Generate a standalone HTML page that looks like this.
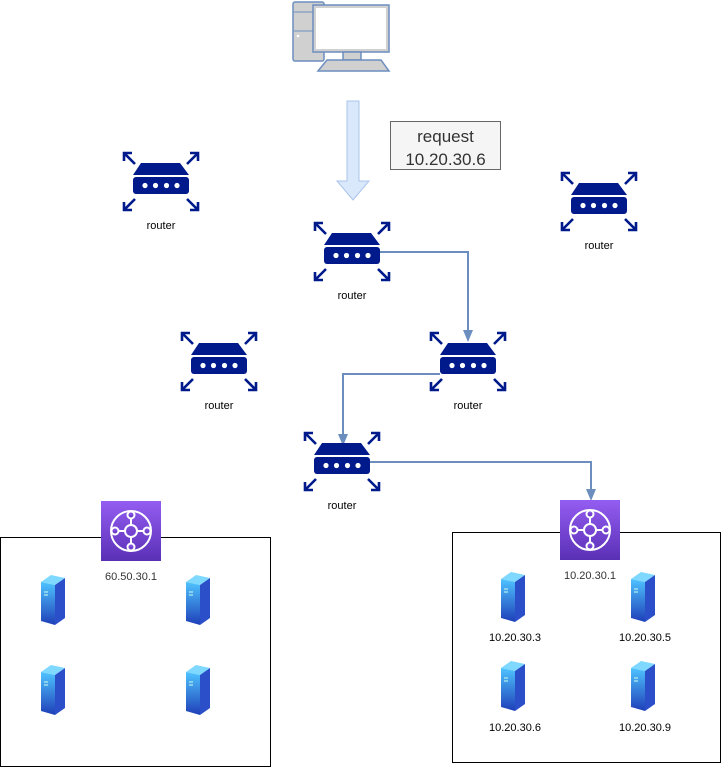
<!DOCTYPE html>
<html><head><meta charset="utf-8"><style>
body{margin:0;background:#fff;}
svg text{font-family:"Liberation Sans",sans-serif;}
</style></head><body>
<svg width="721" height="767" viewBox="0 0 721 767" xmlns="http://www.w3.org/2000/svg">
<defs>
<g id="r">
 <path d="M-20,-19 L19,-19 L28,-7 L-28,-7 Z" fill="#001a8c"/>
 <rect x="-28" y="-5" width="56" height="17" rx="3" fill="#001a8c"/>
 <circle cx="-16" cy="3.5" r="2.6" fill="#fff"/><circle cx="-5.5" cy="3.5" r="2.6" fill="#fff"/>
 <circle cx="5.5" cy="3.5" r="2.6" fill="#fff"/><circle cx="16" cy="3.5" r="2.6" fill="#fff"/>
 <g stroke="#001a8c" stroke-width="2.6" fill="none">
  <path d="M-26,-18 L-37,-29 M-37,-21 L-37,-29 L-29,-29"/>
  <path d="M26,-18 L37,-29 M37,-21 L37,-29 L29,-29"/>
  <path d="M-26,17 L-37,28 M-37,20 L-37,28 L-29,28"/>
  <path d="M26,17 L37,28 M37,20 L37,28 L29,28"/>
 </g>
</g>
<linearGradient id="sg" x1="0" y1="0" x2="0" y2="1"><stop offset="0" stop-color="#4fc3ff"/><stop offset="1" stop-color="#1e3fb8"/></linearGradient>
<g id="s">
 <path d="M-12,-18 L-2,-25 L12,-22 L2,-15 Z" fill="#7fd8ff"/>
 <path d="M-12,-18 L2,-15 L2,25 L-12,21 Z" fill="url(#sg)"/>
 <path d="M2,-15 L12,-22 L12,18 L2,25 Z" fill="#2a4fc8"/>
 <path d="M-9,-8 h4 M-9,-5 h4" stroke="#cfe" stroke-width="1"/>
</g>
<linearGradient id="ag" x1="0" y1="0" x2="0" y2="1"><stop offset="0" stop-color="#945df2"/><stop offset="1" stop-color="#5a30b5"/></linearGradient>
<g id="a">
 <rect x="0" y="0" width="60" height="60" fill="url(#ag)"/>
 <g stroke="#fff" stroke-width="2" fill="none">
  <circle cx="30" cy="30" r="20"/><circle cx="30" cy="30" r="6"/>
  <circle cx="30" cy="14" r="3.5" fill="url(#ag)"/><circle cx="30" cy="46" r="3.5" fill="url(#ag)"/>
  <circle cx="14" cy="30" r="3.5" fill="url(#ag)"/><circle cx="46" cy="30" r="3.5" fill="url(#ag)"/>
  <path d="M30,17.5 V24 M30,36 V42.5 M17.5,30 H24 M36,30 H42.5"/>
 </g>
</g>
</defs>

<!-- computer -->
<g stroke="#6c8ebf" stroke-width="1.5">
 <rect x="293" y="2" width="31" height="59" rx="2" fill="#d0d0d0"/>
 <rect x="313" y="5" width="76" height="47" fill="#d0d0d0"/>
 <rect x="316" y="8" width="70" height="41" fill="#fff" stroke="none"/>
 <rect x="343" y="52" width="18" height="8" fill="#d0d0d0"/>
 <path d="M327,60 L381,60 L389,71 L318,71 Z" fill="#d0d0d0"/>
</g>
<path d="M294,12 H313 M294,31 H313" stroke="#6c8ebf" stroke-width="1"/>
<circle cx="298" cy="36" r="1.3" fill="#fff"/>

<!-- big arrow -->
<path d="M347,101 H359 V181 H369 L353,200 L337,181 H347 Z" fill="#dae8fc" stroke="#a9c4eb" stroke-width="1"/>
<rect x="390.5" y="121.5" width="110" height="48" fill="#f5f5f5" stroke="#666"/>
<text x="445.5" y="142" font-size="17" fill="#333" text-anchor="middle">request</text>
<text x="445.5" y="165" font-size="17" fill="#333" text-anchor="middle">10.20.30.6</text>

<!-- connectors -->
<g stroke="#6c8ebf" stroke-width="2" fill="none">
 <path d="M380,252 H468 V332"/>
 <path d="M440,374 H343 V437"/>
 <path d="M370,462 H591 V494"/>
</g>
<g fill="#6c8ebf">
 <path d="M463,330 L473,330 L468,342 Z"/>
 <path d="M338,434 L348,434 L343,446 Z"/>
 <path d="M586,489 L596,489 L591,501 Z"/>
</g>

<!-- routers -->
<use href="#r" x="161" y="182"/><text x="161" y="229" font-size="11" text-anchor="middle" fill="#000">router</text>
<use href="#r" x="352" y="252"/><text x="352" y="299" font-size="11" text-anchor="middle" fill="#000">router</text>
<use href="#r" x="599" y="202"/><text x="599" y="249" font-size="11" text-anchor="middle" fill="#000">router</text>
<use href="#r" x="219" y="362"/><text x="219" y="409" font-size="11" text-anchor="middle" fill="#000">router</text>
<use href="#r" x="468" y="362"/><text x="468" y="409" font-size="11" text-anchor="middle" fill="#000">router</text>
<use href="#r" x="342" y="462"/><text x="342" y="509" font-size="11" text-anchor="middle" fill="#000">router</text>

<!-- boxes -->
<rect x="0.5" y="537.5" width="270" height="229" fill="none" stroke="#000"/>
<rect x="452.5" y="532.5" width="268" height="230" fill="none" stroke="#000"/>
<use href="#a" x="101" y="501"/>
<use href="#a" x="560" y="500"/>
<text x="131" y="580" font-size="11" text-anchor="middle" fill="#333">60.50.30.1</text>
<text x="590" y="579" font-size="11" text-anchor="middle" fill="#333">10.20.30.1</text>

<use href="#s" x="53" y="600"/><use href="#s" x="198" y="600"/>
<use href="#s" x="53" y="690"/><use href="#s" x="198" y="690"/>
<use href="#s" x="513" y="597"/><use href="#s" x="643" y="597"/>
<use href="#s" x="513" y="686"/><use href="#s" x="643" y="686"/>
<text x="515" y="641" font-size="11" text-anchor="middle" fill="#000">10.20.30.3</text>
<text x="645" y="641" font-size="11" text-anchor="middle" fill="#000">10.20.30.5</text>
<text x="515" y="731" font-size="11" text-anchor="middle" fill="#000">10.20.30.6</text>
<text x="645" y="731" font-size="11" text-anchor="middle" fill="#000">10.20.30.9</text>
</svg>
</body></html>
